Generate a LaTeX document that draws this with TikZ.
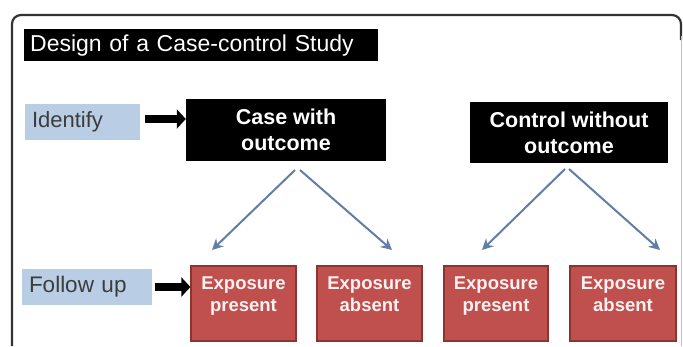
\documentclass[tikz,border=0pt]{standalone}
\usepackage{fontspec}
\setmainfont{Liberation Sans}
\usetikzlibrary{arrows.meta,calc}
\definecolor{idblue}{RGB}{185,205,229}
\definecolor{exred}{RGB}{192,80,77}
\definecolor{exedge}{RGB}{140,52,50}
\definecolor{flowblue}{RGB}{96,126,166}
\definecolor{idtext}{RGB}{60,60,60}
\begin{document}
\begin{tikzpicture}[x=1pt,y=-1pt,
	blackbox/.style={fill=black,text=white,font=\fontsize{21.5}{26}\selectfont\bfseries,align=center,inner sep=0pt},
	labelbox/.style={fill=idblue,text=idtext,align=left,inner xsep=7pt,inner ysep=0pt,minimum height=36pt},
	expbox/.style={fill=exred,draw=exedge,line width=1.2pt,text=white!92!exred,font=\fontsize{18.5}{22}\selectfont\bfseries,align=center,inner sep=0pt,minimum height=75pt,text depth=18pt},
	bigarrow/.style={line width=8pt,-{Triangle[length=9pt,width=19pt]}},
	flow/.style={flowblue,line width=2pt,-{Stealth[length=11pt,width=11pt]}}]
\useasboundingbox (0,0) rectangle (683,346);
\draw [line width=2.2pt,color=black!80,rounded corners=9pt] (12,346)-- (12,15)-- (681,15)-- (681,40);
\draw [line width=1pt,color=black!25] (681,36)-- (681,346);
\node [fill=black,text=white,font=\fontsize{23}{27}\selectfont,anchor=north west,minimum height=32pt,text width=342pt,align=left,inner xsep=6pt,inner ysep=0pt] (title) at (24,29) {Design of a Case-control Study};
\node [labelbox,text width=101pt,font=\fontsize{22}{25}\selectfont] (identify) at (82.5,122) {Identify};
\node [labelbox,text width=116pt,font=\fontsize{22.5}{25}\selectfont] (followup) at (87,287) {Follow up};
\node [blackbox,minimum width=200pt,minimum height=62pt] (case) at (286,130) {Case with\\outcome};
\node [blackbox,minimum width=198pt,minimum height=61pt] (control) at (569,132.5) {Control without\\outcome};
\node [expbox,minimum width=105pt] (casepres) at (243.5,303.5) {Exposure\\present};
\node [expbox,minimum width=105pt] (caseabs) at (369.5,303.5) {Exposure\\absent};
\node [expbox,minimum width=104pt] (ctrlpres) at (496,303.5) {Exposure\\present};
\node [expbox,minimum width=106pt] (ctrlabs) at (623,303.5) {Exposure\\absent};
\draw [bigarrow] (identify.east)++(5,-3) coordinate (idtip) -- (case.west|-idtip);
\draw [bigarrow] (followup.east)++(3,0) coordinate (futip) -- (casepres.west|-futip);
\coordinate (caseL) at (295,170);
\coordinate (caseR) at (300,170);
\coordinate (ctrlL) at (565,169);
\coordinate (ctrlR) at (569,169);
\coordinate (casepresin) at (212,250);
\coordinate (caseabsin) at (392,250);
\coordinate (ctrlpresin) at (482,250);
\coordinate (ctrlabsin) at (660,250);
\draw [flow] (caseL)-- (casepresin);
\draw [flow] (caseR)-- (caseabsin);
\draw [flow] (ctrlL)-- (ctrlpresin);
\draw [flow] (ctrlR)-- (ctrlabsin);
\end{tikzpicture}
\end{document}
